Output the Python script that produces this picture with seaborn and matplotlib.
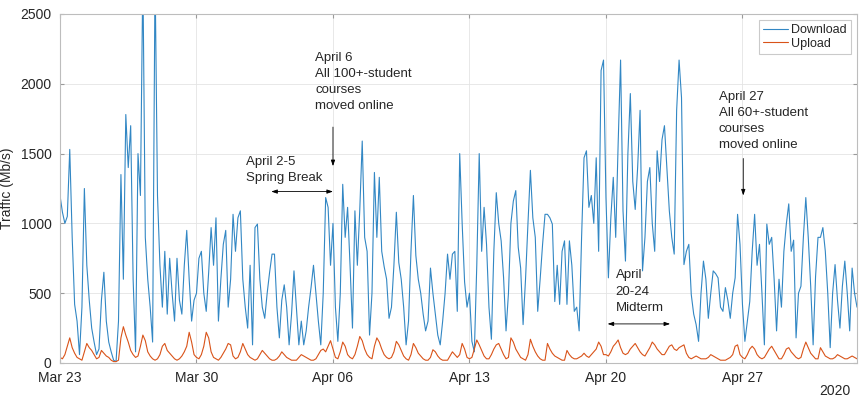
import numpy as np
import pandas as pd
import matplotlib
matplotlib.use("Agg")
import matplotlib.pyplot as plt
import matplotlib.dates as mdates
import seaborn as sns

# =========================
# DATA (3-hour samples, Mb/s)
# =========================
START = "2020-03-23"
STEP = "3h"

# Mar 23 - Mar 29
download_wk1 = [
    1200, 1080, 1000, 1050, 1530, 900, 420, 300,
    60, 400, 1250, 700, 450, 250, 150, 60,
    100, 450, 650, 300, 150, 80, 20, 10,
    300, 1350, 600, 1780, 1400, 1700, 600, 80,
    1500, 1200, 2800, 900, 600, 400, 150, 2800,
    1200, 700, 400, 800, 350, 750, 500, 300,
    750, 450, 350, 700, 950, 600, 300, 450,
]
# Mar 30 - Apr 5
download_wk2 = [
    500, 750, 800, 500, 370, 650, 970, 700,
    1040, 300, 600, 850, 950, 400, 600, 1065,
    800, 1040, 1090, 600, 400, 250, 700, 130,
    970, 995, 600, 400, 320, 500, 650, 780,
    780, 400, 180, 450, 560, 400, 130, 350,
    660, 400, 130, 300, 130, 230, 400, 540,
    700, 500, 300, 130, 500, 1185, 1115, 700,
]
# Apr 6 - Apr 12
download_wk3 = [
    1000, 400, 155, 500, 1280, 900, 1115, 700,
    250, 1090, 700, 1100, 1590, 900, 800, 200,
    500, 1365, 900, 1330, 800, 690, 600, 320,
    400, 700, 1080, 720, 600, 400, 130, 300,
    800, 1200, 770, 600, 500, 350, 230, 300,
    680, 500, 350, 200, 130, 300, 500, 780,
    600, 780, 800, 370, 1500, 1000, 580, 400,
]
# Apr 13 - Apr 19
download_wk4 = [
    500, 155, 80, 700, 1500, 800, 1115, 850,
    400, 170, 800, 1220, 1000, 875, 610, 230,
    500, 1000, 1160, 1235, 830, 680, 275, 600,
    1000, 1380, 1040, 900, 370, 600, 850, 1065,
    1065, 1040, 995, 440, 700, 420, 800, 875,
    420, 875, 700, 370, 400, 230, 900, 1470,
    1520, 1115, 1200, 1000, 1470, 800, 2095, 2170,
]
# Apr 20 - Apr 26
download_wk5 = [
    1185, 610, 1040, 1330, 900, 1570, 2170, 1090,
    730, 1500, 1930, 1300, 1100, 1400, 1810, 660,
    900, 1300, 1400, 1000, 800, 1520, 1300, 1600,
    1700, 1400, 1090, 900, 780, 1810, 2170, 1900,
    705, 800, 850, 490, 350, 275, 155, 500,
    730, 600, 320, 500, 660, 640, 610, 400,
    370, 540, 450, 320, 500, 610, 1065, 850,
]
# Apr 27 - May 2
download_wk6 = [
    420, 155, 300, 440, 800, 1065, 700, 850,
    500, 130, 995, 850, 900, 600, 230, 600,
    400, 800, 995, 1140, 800, 880, 180, 500,
    550, 900, 1185, 900, 550, 130, 620, 900,
    900, 970, 800, 500, 110, 500, 705, 450,
    250, 550, 730, 500, 230, 680, 500, 400,
]

upload_wk1 = [
    40, 30, 60, 120, 180, 110, 70, 40,
    30, 20, 80, 140, 110, 90, 60, 30,
    40, 90, 70, 50, 40, 20, 10, 10,
    20, 180, 260, 200, 150, 90, 60, 40,
    50, 120, 200, 160, 80, 50, 30, 20,
    30, 60, 120, 140, 90, 70, 50, 30,
    20, 30, 50, 80, 120, 220, 150, 60,
]
upload_wk2 = [
    40, 30, 60, 120, 220, 180, 80, 40,
    30, 20, 40, 70, 100, 140, 130, 50,
    30, 40, 80, 140, 100, 60, 40, 30,
    20, 30, 60, 90, 70, 50, 30, 20,
    20, 30, 50, 80, 60, 40, 30, 20,
    20, 20, 40, 60, 50, 40, 30, 20,
    20, 30, 60, 90, 100, 80, 120, 160,
]
upload_wk3 = [
    100, 40, 30, 80, 150, 120, 60, 40,
    30, 60, 120, 190, 160, 100, 60, 40,
    30, 120, 180, 150, 100, 60, 40, 30,
    40, 80, 155, 130, 90, 50, 30, 20,
    60, 140, 110, 70, 50, 30, 20, 20,
    40, 95, 80, 50, 30, 20, 20, 20,
    50, 80, 60, 40, 60, 140, 100, 40,
]
upload_wk4 = [
    30, 40, 100, 165, 130, 90, 50, 30,
    30, 60, 100, 130, 140, 100, 60, 30,
    40, 180, 150, 100, 70, 40, 30, 20,
    60, 170, 120, 80, 50, 30, 20, 20,
    140, 100, 70, 50, 40, 30, 20, 20,
    90, 60, 40, 30, 30, 40, 50, 70,
    50, 40, 60, 80, 100, 150, 120, 60,
]
upload_wk5 = [
    60, 50, 80, 120, 140, 165, 110, 70,
    60, 70, 100, 120, 140, 110, 80, 60,
    50, 80, 110, 150, 130, 100, 80, 60,
    60, 90, 120, 130, 100, 90, 110, 120,
    130, 70, 40, 30, 40, 50, 40, 30,
    30, 30, 40, 60, 50, 40, 30, 20,
    20, 20, 30, 40, 60, 120, 130, 60,
]
upload_wk6 = [
    40, 30, 60, 100, 120, 100, 60, 40,
    30, 40, 70, 100, 120, 90, 60, 30,
    30, 60, 100, 110, 80, 60, 40, 30,
    40, 100, 150, 110, 70, 50, 30, 30,
    110, 80, 50, 40, 30, 30, 40, 60,
    50, 40, 30, 30, 40, 50, 40, 30,
]

series_names = ["Download", "Upload"]
series_colors = ["#3287c4", "#d95319"]
tick_dates = ["2020-03-23", "2020-03-30", "2020-04-06", "2020-04-13", "2020-04-20", "2020-04-27"]
y_ticks = [0, 500, 1000, 1500, 2000, 2500]

# =========================
# TABLE
# =========================
download = download_wk1 + download_wk2 + download_wk3 + download_wk4 + download_wk5 + download_wk6
upload = upload_wk1 + upload_wk2 + upload_wk3 + upload_wk4 + upload_wk5 + upload_wk6
times = pd.date_range(START, periods=len(download), freq=STEP)

df = pd.concat([
    pd.DataFrame({"time": times, "traffic": download, "dir": series_names[0]}),
    pd.DataFrame({"time": times, "traffic": upload, "dir": series_names[1]}),
])

# =========================
# PLOT
# =========================
sns.set_style("ticks")
plt.rcParams["font.family"] = ["Liberation Sans", "DejaVu Sans"]

fig = plt.figure(figsize=(8.59, 4.0), dpi=100)
ax = fig.add_axes([60 / 859, 1 - 363 / 400, 797 / 859, 349 / 400])

sns.lineplot(data=df, x="time", y="traffic", hue="dir", palette=series_colors,
             linewidth=0.8, ax=ax)

ax.set_xlim(pd.Timestamp("2020-03-23"), pd.Timestamp("2020-05-02 21:00"))
ax.set_ylim(0, 2500)
ax.set_yticks(y_ticks)
ax.set_xticks(pd.to_datetime(tick_dates))
ax.xaxis.set_major_formatter(mdates.DateFormatter("%b %d"))
ax.set_xlabel("")
ax.set_ylabel("Traffic (Mb/s)", fontsize=10, color="#262626")
ax.yaxis.set_label_coords(-46 / 797, 0.5)

ax.grid(True, color="#e4e4e4", linewidth=0.6)
ax.set_axisbelow(True)
for s in ax.spines.values():
    s.set_color("#bdbdbd")
    s.set_linewidth(0.8)
ax.tick_params(direction="in", length=3, color="#9a9a9a", labelsize=10,
               labelcolor="#262626", top=True, right=True, pad=6)

leg = ax.legend(loc="upper right", fontsize=9, frameon=True, fancybox=False,
                handlelength=2.0, borderpad=0.3, labelspacing=0.15,
                handletextpad=0.3, borderaxespad=0.5)
leg.get_frame().set_edgecolor("#bdbdbd")
leg.get_frame().set_linewidth(0.8)

# annotations
txt = dict(fontsize=9.5, color="#262626", ha="left", va="top", linespacing=1.45)
arrow = dict(arrowstyle="-|>,head_length=0.35,head_width=0.12", color="black", lw=0.6,
             shrinkA=0, shrinkB=0)
double = dict(arrowstyle="<|-|>,head_length=0.35,head_width=0.12", color="black", lw=0.6,
              shrinkA=0, shrinkB=0)

ax.text(pd.Timestamp("2020-04-01 13:00"), 1480, "April 2-5\nSpring Break", **txt)
ax.annotate("", xy=(pd.Timestamp("2020-04-06"), 1228),
            xytext=(pd.Timestamp("2020-04-02 20:00"), 1228), arrowprops=double)

ax.text(pd.Timestamp("2020-04-05 02:00"), 2230,
        "April 6\nAll 100+-student\ncourses\nmoved online", **txt)
ax.annotate("", xy=(pd.Timestamp("2020-04-06"), 1410),
            xytext=(pd.Timestamp("2020-04-06"), 1690), arrowprops=arrow)

ax.text(pd.Timestamp("2020-04-20 12:00"), 670, "April\n20-24\nMidterm", **txt)
ax.annotate("", xy=(pd.Timestamp("2020-04-23 07:00"), 280),
            xytext=(pd.Timestamp("2020-04-20 02:00"), 280), arrowprops=double)

ax.text(pd.Timestamp("2020-04-25 19:00"), 1950,
        "April 27\nAll 60+-student\ncourses\nmoved online", **txt)
ax.annotate("", xy=(pd.Timestamp("2020-04-27 01:00"), 1200),
            xytext=(pd.Timestamp("2020-04-27 01:00"), 1465), arrowprops=arrow)

fig.text(850 / 859, 1 - 398 / 400, "2020", ha="right", va="bottom",
         fontsize=10, color="#262626")

fig.savefig("out.png", dpi=100)
